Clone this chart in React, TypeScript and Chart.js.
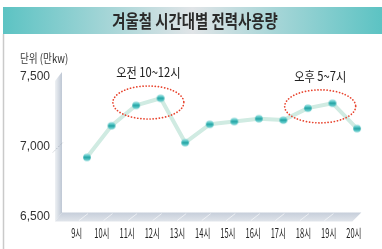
import { useEffect, useRef } from "react";
import { Chart, registerables } from "chart.js";

Chart.register(...registerables);

const categories = ["9시", "10시", "11시", "12시", "13시", "14시", "15시", "16시", "17시", "18시", "19시", "20시"];
const usage = [6925, 7150, 7295, 7345, 7030, 7160, 7180, 7200, 7190, 7275, 7310, 7130];
const yTicks = [6500, 7000, 7500];
const chartTitle = "겨울철 시간대별 전력사용량";
const unitLabel = "단위 (만kw)";
const highlightLabels = ["오전 10~12시", "오후 5~7시"];
const highlightFrom = [2, 9];
const highlightTo = [3, 10];

const KFONT = '"Noto Sans CJK KR", "Noto Sans", sans-serif';

function condensed(
  ctx: CanvasRenderingContext2D,
  text: string,
  x: number,
  y: number,
  font: string,
  sx: number,
  color: string,
  align: CanvasTextAlign = "center"
) {
  ctx.save();
  ctx.font = font;
  ctx.fillStyle = color;
  ctx.textBaseline = "middle";
  ctx.textAlign = align;
  ctx.translate(x, y);
  ctx.scale(sx, 1);
  ctx.fillText(text, 0, 0);
  ctx.restore();
}

function makeSphere(r: number) {
  const s = Math.ceil(r * 2) + 2;
  const c = document.createElement("canvas");
  c.width = s;
  c.height = s;
  const g = c.getContext("2d")!;
  const cx = s / 2;
  const grad = g.createLinearGradient(0, cx - r, 0, cx + r);
  grad.addColorStop(0, "#a6e2e2");
  grad.addColorStop(0.35, "#4cc2c2");
  grad.addColorStop(0.5, "#1c9c9c");
  grad.addColorStop(0.65, "#3fbaba");
  grad.addColorStop(1, "#86d6d6");
  g.beginPath();
  g.arc(cx, cx, r, 0, Math.PI * 2);
  g.fillStyle = grad;
  g.fill();
  return c;
}

const decorPlugin = {
  id: "decor",
  beforeDraw(chart: any) {
    const ctx: CanvasRenderingContext2D = chart.ctx;
    const { left: L, right: R, top: T, bottom: B } = chart.chartArea;
    ctx.save();
    ctx.fillStyle = "#ffffff";
    ctx.fillRect(0, 0, chart.width, chart.height);

    // title bar
    const tg = ctx.createLinearGradient(3, 0, 382, 0);
    tg.addColorStop(0, "#5cc3c3");
    tg.addColorStop(0.5, "#e0e4e7");
    tg.addColorStop(1, "#5cc3c3");
    ctx.fillStyle = tg;
    ctx.fillRect(3, 7, 379, 27);

    // frame line
    ctx.strokeStyle = "#cacaca";
    ctx.lineWidth = 1.5;
    ctx.beginPath();
    ctx.moveTo(3.5, 34);
    ctx.lineTo(3.5, chart.height);
    ctx.stroke();

    condensed(ctx, chartTitle, 195, 21, `bold 18px ${KFONT}`, 0.8, "#2b2b2b");
    condensed(ctx, unitLabel, 20, 58, `12px ${KFONT}`, 0.8, "#333333", "left");

    // 3D wall and floor
    const bx = L - 12.7;
    const fx = bx - 7;
    const tb = T - 4.5;
    const tf = T + 4.5;
    const bb = B - 4.5;
    const fb = B + 4.5;
    const rb = R - 8;
    const rf = rb - 9;

    const wg = ctx.createLinearGradient(fx, 0, bx, 0);
    wg.addColorStop(0, "#eef1f4");
    wg.addColorStop(1, "#bec7d4");
    ctx.fillStyle = wg;
    ctx.beginPath();
    ctx.moveTo(fx, tf);
    ctx.lineTo(bx, tb);
    ctx.lineTo(bx, bb);
    ctx.lineTo(fx, fb);
    ctx.closePath();
    ctx.fill();

    const fg = ctx.createLinearGradient(0, bb, 0, fb);
    fg.addColorStop(0, "#c6ceda");
    fg.addColorStop(1, "#e1e5eb");
    ctx.fillStyle = fg;
    ctx.beginPath();
    ctx.moveTo(bx, bb);
    ctx.lineTo(rb, bb);
    ctx.lineTo(rf, fb);
    ctx.lineTo(fx, fb);
    ctx.closePath();
    ctx.fill();

    // wall gridline at middle tick
    const ys = chart.scales.y;
    ctx.strokeStyle = "#98a1ad";
    ctx.lineWidth = 0.8;
    ctx.setLineDash([1, 1.5]);
    for (const v of yTicks.slice(1, -1)) {
      const py = ys.getPixelForValue(v);
      ctx.beginPath();
      ctx.moveTo(fx - 2, py + 5.5);
      ctx.lineTo(bx + 1, py - 4.5);
      ctx.stroke();
    }
    ctx.setLineDash([]);

    // floor diagonals
    const xs = chart.scales.x;
    ctx.strokeStyle = "rgba(255,255,255,0.75)";
    ctx.lineWidth = 0.8;
    for (let i = 0; i < categories.length - 1; i++) {
      const px = xs.getPixelForValue(i);
      ctx.beginPath();
      ctx.moveTo(px + 1, bb + 1);
      ctx.lineTo(px - 8, fb - 1);
      ctx.stroke();
    }
    ctx.restore();
  },
  afterDatasetsDraw(chart: any) {
    const ctx: CanvasRenderingContext2D = chart.ctx;
    const pts = chart.getDatasetMeta(0).data;
    ctx.save();
    for (let k = 0; k < highlightLabels.length; k++) {
      const a = pts[highlightFrom[k]];
      const b = pts[highlightTo[k]];
      const cx = (a.x + b.x) / 2;
      const cy = (a.y + b.y) / 2 + 0.7;
      ctx.strokeStyle = "#e8442e";
      ctx.lineWidth = 1.7;
      ctx.lineCap = "round";
      ctx.setLineDash([0.1, 3]);
      ctx.beginPath();
      ctx.ellipse(cx, cy, 35.5, 16.5, 0, 0, Math.PI * 2);
      ctx.stroke();
      ctx.setLineDash([]);
      condensed(ctx, highlightLabels[k], cx, cy - 16.5 - 13.5, `13px ${KFONT}`, 0.86, "#222222");
    }
    // category labels on front plane
    const xs = chart.scales.x;
    const first = xs.getPixelForValue(0);
    for (let i = 0; i < categories.length; i++) {
      const px = xs.getPixelForValue(i);
      const lx = px - 10.3 + (px - first) * 0.0265;
      condensed(ctx, categories[i], lx, 233, `12.5px ${KFONT}`, 0.6, "#222222");
    }
    ctx.restore();
  },
};

export default function App() {
  const ref = useRef<HTMLCanvasElement | null>(null);
  useEffect(() => {
    if (!ref.current) return;
    const sphere = makeSphere(3.8);
    const chart = new Chart(ref.current, {
      type: "line",
      data: {
        labels: categories,
        datasets: [
          {
            data: usage,
            borderColor: "#d0ebe2",
            borderWidth: 4,
            tension: 0,
            pointStyle: sphere as any,
            pointRadius: 4,
            borderCapStyle: "round",
            borderJoinStyle: "round",
          },
        ],
      },
      options: {
        animation: false,
        responsive: false,
        events: [],
        layout: { padding: { top: 76.5, right: 12.7, bottom: 0, left: 0 } },
        plugins: {
          legend: { display: false },
          tooltip: { enabled: false },
          title: { display: false },
        },
        scales: {
          x: {
            type: "category",
            offset: true,
            grid: { display: false, drawTicks: false },
            border: { display: false },
            ticks: { display: false },
            afterFit: (s: any) => {
              s.height = 31;
            },
          },
          y: {
            min: 6500,
            max: 7500,
            afterBuildTicks: (s: any) => {
              s.ticks = yTicks.map((v) => ({ value: v }));
            },
            grid: { display: false, drawTicks: false },
            border: { display: false },
            ticks: {
              padding: 24.7,
              color: "#333333",
              font: { family: '"Liberation Sans", Arial, sans-serif', size: 12 },
              callback: (v: any) => Number(v).toLocaleString("en-US"),
            },
            afterFit: (s: any) => {
              s.width = 74.7;
            },
          },
        },
      },
      plugins: [decorPlugin],
    });
    return () => chart.destroy();
  }, []);
  return (
    <div style={{ position: "fixed", left: 0, top: 0, width: 382, height: 249, background: "#fff" }}>
      <canvas ref={ref} width={382} height={249} style={{ display: "block", width: 382, height: 249 }} />
    </div>
  );
}
